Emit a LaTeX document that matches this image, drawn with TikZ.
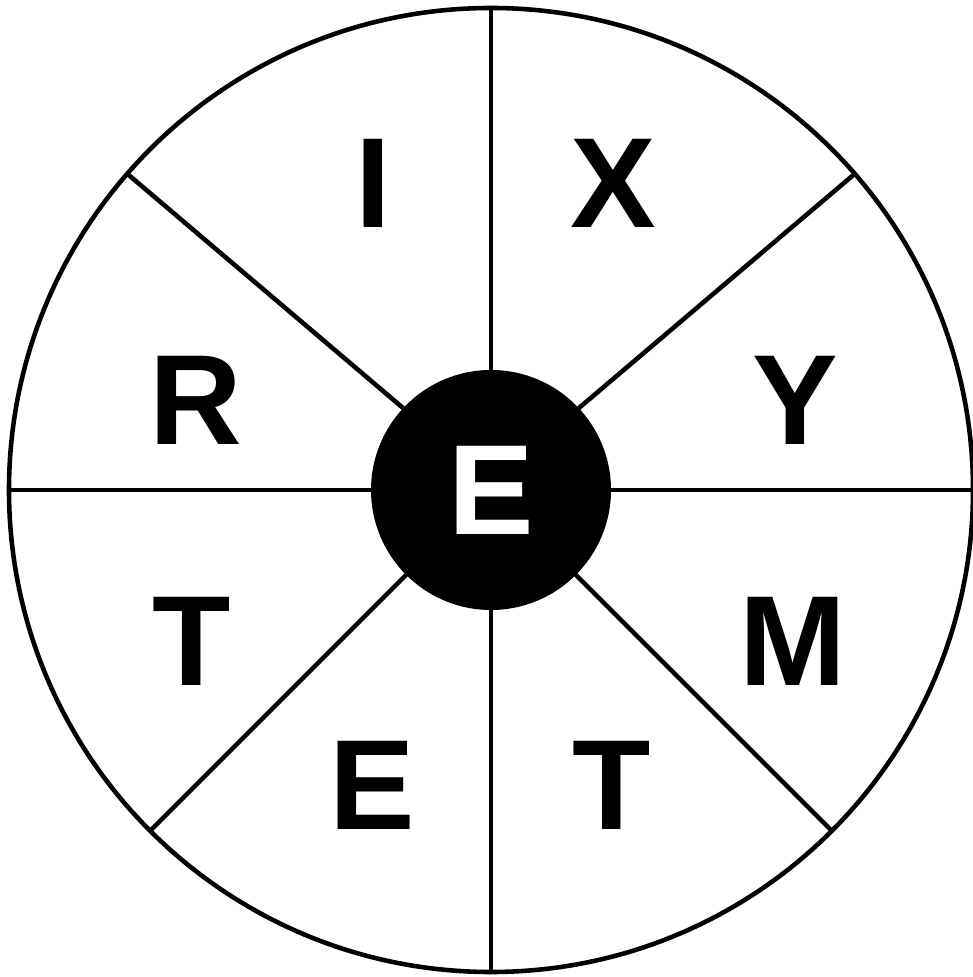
\documentclass[tikz,border=0pt]{standalone}
\usepackage{fontspec}
\setmainfont{Liberation Sans}
\usetikzlibrary{positioning}
\tikzset{
  spoke/.style={line width=1.3pt,draw=black},
  letter/.style={font=\fontsize{36.5}{36.5}\selectfont\bfseries,inner sep=0pt},
  hubdisc/.style={circle,fill=black,minimum size=2.4cm,inner sep=0pt,outer sep=0pt,
                  text=white,font=\fontsize{36.5}{36.5}\selectfont\bfseries},
  rimring/.style={circle,draw=black,line width=1.3pt,minimum size=9.64cm,inner sep=0pt,outer sep=0pt}
}
\begin{document}
\begin{tikzpicture}
    \useasboundingbox (-4.91,-4.87) rectangle (4.81,4.90);
    \node[rimring] (rim) at (0,0) {};
    \node[hubdisc] (hub) at (0,0) {E};
    \path (rim.90) edge[spoke] (hub.90);
    \path (rim.41) edge[spoke] (hub.43);
    \path (rim.0) edge[spoke] (hub.0);
    \path (rim.-45) edge[spoke] (hub.-45);
    \path (rim.-90) edge[spoke] (hub.-90);
    \path (rim.-135) edge[spoke] (hub.-135);
    \path (rim.180) edge[spoke] (hub.180);
    \path (rim.139) edge[spoke] (hub.137);
    \node[letter] (l1) at (-1.18,3.07) {I};
    \node[letter] (l2) at (1.22,3.07) {X};
    \node[letter] (l3) at (3.04,0.90) {Y};
    \node[letter] (l4) at (3.02,-1.51) {M};
    \node[letter] (l5) at (1.21,-2.95) {T};
    \node[letter] (l6) at (-1.19,-2.95) {E};
    \node[letter] (l7) at (-2.99,-1.51) {T};
    \node[letter] (l8) at (-2.95,0.90) {R};
  \end{tikzpicture}
\end{document}
